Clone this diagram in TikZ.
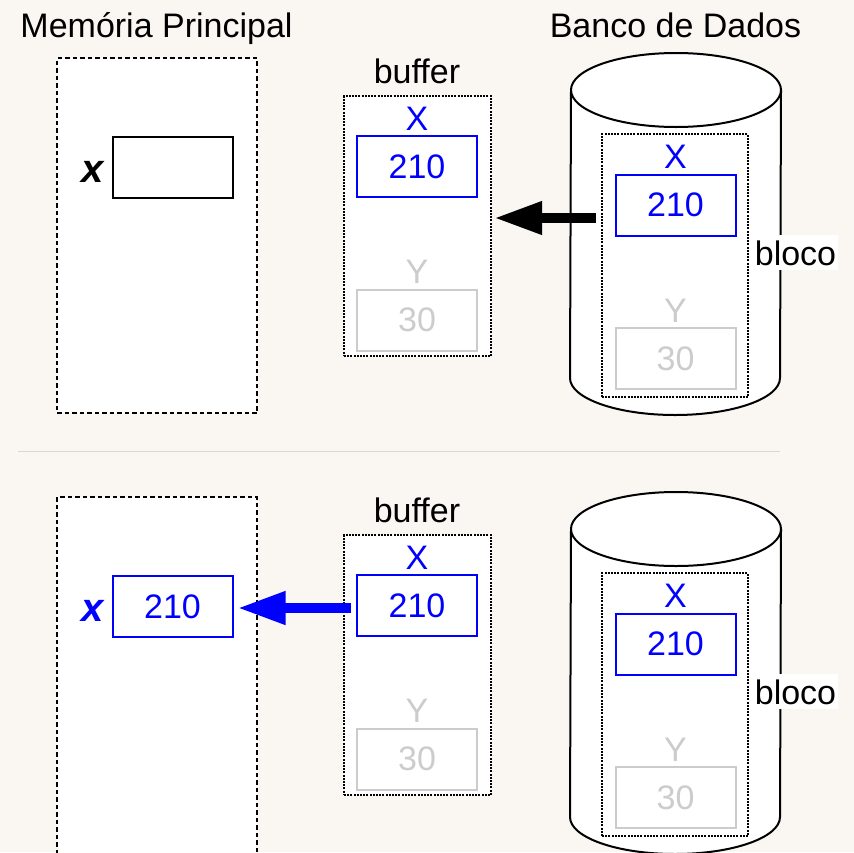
\documentclass[tikz,border=0pt]{standalone}
\usepackage{fontspec}
\setmainfont{Liberation Sans}
\usetikzlibrary{arrows.meta}
\definecolor{paper}{HTML}{FAF6F2}
\definecolor{val}{HTML}{0000FF}
\definecolor{faint}{HTML}{CCCCCC}
\definecolor{rule}{HTML}{D9D6D3}
\newcommand\fsz{\fontsize{34}{40}\selectfont}
\newcommand\fvar{\fontsize{40}{46}\selectfont\bfseries\itshape}
\tikzset{
  membox/.style={draw=black, fill=white, line width=2pt, dash pattern=on 4.5pt off 3pt, inner sep=0pt, minimum width=200pt, minimum height=355pt},
  bufbox/.style={draw=black, fill=white, line width=2.2pt, dash pattern=on 2pt off 1.2pt, inner sep=0pt},
  cell/.style={draw=#1, fill=white, line width=2pt, inner sep=0pt, minimum width=120pt, minimum height=61pt, text=#1, font=\fsz},
  cell/.default=val,
  vlab/.style={text=#1, font=\fsz, anchor=base, inner sep=0pt},
  vlab/.default=val,
  varlab/.style={text=#1, font=\fvar, anchor=base, inner sep=0pt},
  ttl/.style={font=\fsz, anchor=base, inner sep=0pt},
  db/.style={draw=black, fill=white, line width=2pt},
  move/.style={line width=10pt, -{Triangle[length=48pt,width=31pt]}},
  sep/.style={draw=rule, line width=1pt},
}
\begin{document}
\begin{tikzpicture}[x=1pt, y=-1pt]
  \fill[paper] (0,0) rectangle (854,852);
  \clip (0,0) rectangle (854,852);

  \node[ttl] (tmem) at (156.5,37) {Memória Principal};
  \node[ttl] (tdb) at (675.5,37) {Banco de Dados};
  \draw[sep] (18,451) -- (780,451);

  % main memory, before and after
  \node[membox] (mem1) at (157,235.5) {};
  \node[cell=black] (memX1) at (172.5,167.5) {};
  \node[varlab=black] (x1) at (92.5,182) {x};
  \node[membox, minimum height=380pt] (mem2) at (157,687) {};
  \node[cell] (memX2) at (172.5,606.5) {210};
  \node[varlab=val] (x2) at (92.5,621) {x};

  % buffer and disk, same in both
  \foreach \p/\dy in {1/0,2/439}{
    \begin{scope}[shift={(0,\dy)}]
      \node[ttl] (tbuf\p) at (417,83) {buffer};
      \node[bufbox, minimum width=147pt, minimum height=260pt] (buf\p) at (417.5,226) {};
      \node[vlab] (bx\p) at (417,130) {X};
      \node[cell] (bufX\p) at (417,166.5) {210};
      \node[vlab=faint] (by\p) at (417,283) {Y};
      \node[cell=faint] (bufY\p) at (417,320) {30};

      \filldraw[db] (571,90) -- (570,378) arc[start angle=180, end angle=0, x radius=105, y radius=37] -- (781,90);
      \filldraw[db] (676,90) ellipse[x radius=105, y radius=37];
      \node[bufbox, minimum width=146pt, minimum height=263pt] (blk\p) at (675,265.5) {};
      \node[vlab] (dx\p) at (675.5,168) {X};
      \node[cell] (dbX\p) at (675.5,205) {210};
      \node[vlab=faint] (dy\p) at (675.5,322) {Y};
      \node[cell=faint] (dbY\p) at (675.5,358.5) {30};
      \node[ttl, fill=white, inner xsep=2pt, inner ysep=5pt] (bloco\p) at (795.5,265) {bloco};
    \end{scope}
  }

  % read block into buffer, then copy x
  \coordinate (get) at (596,218);
  \draw[move] (get) -- ([xshift=2pt]get -| buf1.east);
  \draw[move, draw=val] ([xshift=-5pt]bufX2.west |- 0,608) -- ([xshift=4pt]memX2.east |- 0,608);
\end{tikzpicture}
\end{document}
